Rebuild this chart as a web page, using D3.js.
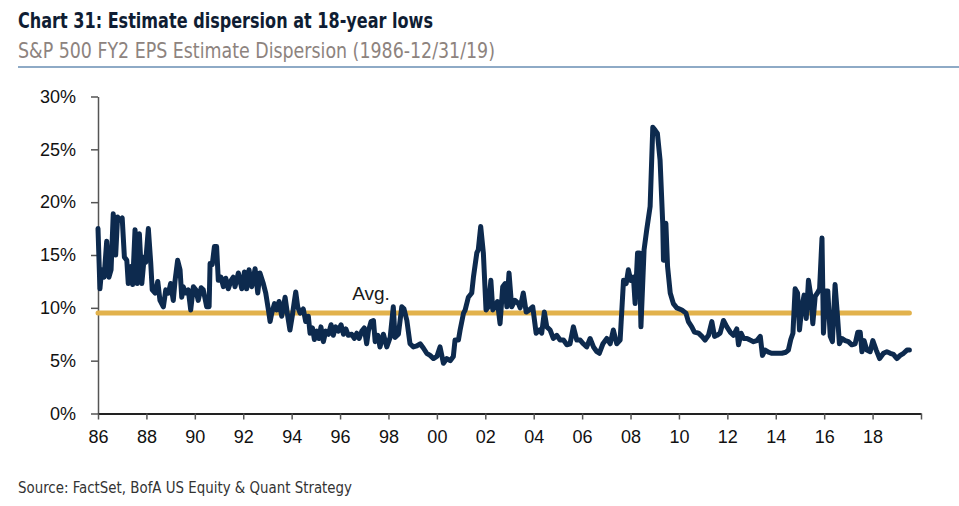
<!DOCTYPE html>
<html>
<head>
<meta charset="utf-8">
<script src="https://cdn.jsdelivr.net/npm/d3@7"></script>
<style>
  html, body { margin: 0; padding: 0; background: #fff; }
  svg { display: block; }
</style>
</head>
<body>
<svg id="chart" width="959" height="506"></svg>
<script>
const titleText = "Chart 31: Estimate dispersion at 18-year lows";
const subtitleText = "S&P 500 FY2 EPS Estimate Dispersion (1986-12/31/19)";
const sourceText = "Source: FactSet, BofA US Equity & Quant Strategy";
const avgLabel = "Avg.";
const avgValue = 9.5;

const yTicks = [0, 5, 10, 15, 20, 25, 30];
const xTicks = [1986,1988,1990,1992,1994,1996,1998,2000,2002,2004,2006,2008,2010,2012,2014,2016,2018,2020];
const xTickLabels = ["86","88","90","92","94","96","98","00","02","04","06","08","10","12","14","16","18",""];

const dates = [
  1986.00,1986.08,1986.15,1986.25,1986.36,1986.45,1986.54,1986.63,1986.73,1986.81,1986.91,
  1987.00,1987.09,1987.19,1987.25,1987.36,1987.43,1987.53,1987.62,1987.71,1987.81,1987.91,1987.97,
  1988.08,1988.18,1988.24,1988.36,1988.47,1988.56,1988.70,1988.80,1988.91,
  1989.00,1989.11,1989.18,1989.29,1989.39,1989.46,1989.52,1989.62,1989.73,1989.83,1989.94,
  1990.04,1990.14,1990.26,1990.35,1990.49,1990.59,1990.63,1990.72,1990.81,1990.90,1990.97,
  1991.08,1991.18,1991.28,1991.38,1991.50,1991.59,1991.66,1991.80,1991.94,
  1992.05,1992.14,1992.24,1992.35,1992.49,1992.60,1992.69,1992.83,1992.93,
  1993.04,1993.11,1993.18,1993.29,1993.38,1993.48,1993.59,1993.73,1993.84,1993.93,
  1994.03,1994.11,1994.17,1994.25,1994.35,1994.48,1994.58,1994.69,1994.76,1994.86,1994.94,
  1995.04,1995.13,1995.21,1995.31,1995.41,1995.52,1995.63,1995.72,1995.82,1995.93,
  1996.04,1996.14,1996.24,1996.34,1996.48,1996.59,1996.69,1996.79,1996.90,
  1997.00,1997.10,1997.17,1997.28,1997.38,1997.45,1997.56,1997.65,1997.79,1997.93,
  1998.07,1998.20,1998.27,1998.41,1998.55,1998.64,1998.76,1998.89,
  1999.03,1999.17,1999.31,1999.44,1999.58,1999.72,1999.86,
  2000.00,2000.13,2000.27,2000.41,2000.55,2000.68,2000.75,2000.89,2000.96,
  2001.10,2001.17,2001.30,2001.44,2001.51,2001.65,2001.71,2001.81,2001.92,
  2002.03,2002.13,2002.23,2002.31,2002.40,2002.50,2002.61,2002.72,2002.82,2002.89,2002.98,
  2003.09,2003.23,2003.37,2003.44,2003.57,2003.69,2003.82,2003.96,
  2004.10,2004.24,2004.33,2004.44,2004.54,2004.68,2004.81,2004.95,
  2005.09,2005.23,2005.37,2005.50,2005.64,2005.78,2005.92,
  2006.05,2006.19,2006.33,2006.47,2006.61,2006.71,2006.86,
  2007.02,2007.16,2007.29,2007.43,2007.57,2007.71,2007.82,2007.91,
  2008.01,2008.12,2008.19,2008.29,2008.37,2008.43,2008.56,2008.67,2008.81,2008.92,
  2009.02,2009.11,2009.22,2009.33,2009.36,2009.46,2009.53,2009.64,2009.77,2009.91,
  2010.12,2010.29,2010.39,2010.53,2010.64,2010.81,2010.95,
  2011.08,2011.22,2011.36,2011.47,2011.57,2011.70,2011.84,2011.98,
  2012.12,2012.25,2012.39,2012.46,2012.57,2012.67,2012.81,2012.94,
  2013.08,2013.22,2013.36,2013.45,2013.56,2013.70,2013.84,2013.98,
  2014.11,2014.25,2014.42,2014.52,2014.62,2014.71,2014.80,2014.90,2014.98,
  2015.08,2015.17,2015.26,2015.35,2015.45,2015.53,2015.63,2015.72,2015.81,2015.91,2015.97,
  2016.07,2016.15,2016.25,2016.34,2016.45,2016.55,2016.63,2016.73,2016.87,
  2017.00,2017.14,2017.28,2017.39,2017.49,2017.56,2017.65,2017.76,2017.90,
  2018.01,2018.15,2018.29,2018.45,2018.59,2018.73,2018.86,
  2019.00,2019.14,2019.28,2019.42,2019.52
];

const values = [
  17.5,11.8,13.6,12.9,16.3,12.9,13.6,18.9,15.0,18.6,18.3,
  18.5,14.8,14.5,12.3,13.9,12.2,17.4,12.3,17.0,12.3,14.8,14.3,
  17.5,14.2,11.7,11.4,12.5,10.7,10.1,11.7,11.4,
  12.3,10.7,12.5,14.5,13.6,11.0,12.0,11.4,11.7,9.8,12.0,
  11.7,10.7,11.9,11.7,10.1,10.1,14.2,14.1,15.8,15.8,12.6,
  12.9,12.0,12.8,11.8,12.6,12.9,12.0,13.3,11.8,
  13.4,11.8,13.6,12.0,13.7,11.4,13.3,12.3,11.4,
  9.8,8.7,9.5,10.4,9.8,10.6,9.2,11.0,9.2,7.9,
  9.3,10.6,11.5,10.1,9.5,9.9,8.7,9.2,7.6,8.1,7.0,
  7.8,7.1,8.2,6.8,7.8,7.5,8.4,7.4,8.2,7.8,
  8.4,7.5,8.0,7.4,7.5,7.1,7.6,7.1,7.8,
  8.1,6.6,7.8,8.7,8.8,6.8,7.4,6.3,7.5,6.3,
  7.2,10.1,7.2,7.5,10.1,9.9,8.8,6.6,
  6.3,6.4,6.6,6.2,5.7,5.5,5.2,
  5.4,6.3,4.75,5.2,5.0,5.4,6.95,6.95,7.9,
  9.5,9.8,11.0,11.4,12.9,15.2,15.5,17.7,15.2,
  9.8,10.1,12.6,9.8,10.1,10.6,8.5,12.0,12.3,10.1,13.3,
  10.1,10.7,10.4,10.0,11.4,9.6,9.8,10.1,
  7.6,7.9,7.6,9.6,8.2,7.9,7.1,7.4,
  6.95,6.95,6.5,6.6,8.2,6.95,6.95,
  6.6,6.3,7.1,6.3,5.85,5.7,6.6,
  7.1,6.6,7.9,6.6,6.95,12.6,12.3,13.6,
  12.6,12.9,10.4,15.2,15.2,8.2,15.5,17.4,19.6,27.1,
  26.8,26.5,24.0,18.0,14.5,18.0,13.9,11.4,10.4,10.0,
  9.8,9.5,8.7,8.2,7.7,7.6,7.3,
  6.95,7.4,8.7,7.3,7.4,7.6,8.8,8.2,
  7.7,7.4,8.0,6.5,7.6,7.1,7.1,6.95,
  6.8,6.9,7.3,5.5,6.0,5.8,5.7,5.7,
  5.7,5.7,5.8,6.0,7.0,7.6,11.8,11.4,7.9,
  10.1,11.2,9.0,12.6,11.1,8.5,11.1,11.4,11.8,16.6,7.6,
  11.6,11.6,7.3,6.8,12.2,9.2,6.6,7.1,6.9,
  6.8,6.5,6.6,7.7,7.7,5.85,6.9,6.0,5.85,
  6.9,6.0,5.2,5.7,5.85,5.7,5.6,
  5.2,5.5,5.7,6.0,6.0
];

const series = dates.map((d, i) => ({ date: d, value: values[i] }));

const svg = d3.select("#chart");

const x = d3.scaleLinear().domain([1986, 2020]).range([98, 921]);
const y = d3.scaleLinear().domain([0, 30]).range([413.5, 96.5]);

// Title & subtitle
svg.append("text")
  .attr("x", 18).attr("y", 28)
  .attr("font-family", "'Liberation Sans Narrow','DejaVu Sans Condensed','Liberation Sans',sans-serif")
  .attr("font-weight", "bold")
  .attr("font-size", 21)
  .attr("fill", "#0f1d33")
  .attr("textLength", 415)
  .attr("lengthAdjust", "spacingAndGlyphs")
  .text(titleText);

svg.append("text")
  .attr("x", 18).attr("y", 58)
  .attr("font-family", "'Liberation Sans Narrow','DejaVu Sans Condensed','Liberation Sans',sans-serif")
  .attr("font-size", 21)
  .attr("fill", "#8d837e")
  .attr("textLength", 477)
  .attr("lengthAdjust", "spacingAndGlyphs")
  .text(subtitleText);

svg.append("line")
  .attr("x1", 18).attr("x2", 959)
  .attr("y1", 67).attr("y2", 67)
  .attr("stroke", "#8eaac6")
  .attr("stroke-width", 2);

// Y axis
const yAxis = svg.append("g")
  .attr("transform", `translate(${x(1986)},0)`)
  .call(d3.axisLeft(y).tickValues(yTicks).tickFormat(d => d + "%").tickSize(7).tickSizeOuter(0).tickPadding(15));
yAxis.select(".domain").attr("stroke", "#555").attr("stroke-width", 1.5);
yAxis.selectAll(".tick line").attr("stroke", "#555").attr("stroke-width", 1.5);
yAxis.selectAll(".tick text")
  .attr("font-family", "'Liberation Sans',Arial,sans-serif")
  .attr("font-size", 18)
  .attr("fill", "#111");

// X axis
const xAxis = svg.append("g")
  .attr("transform", `translate(0,${y(0)})`)
  .call(d3.axisBottom(x).tickValues(xTicks).tickFormat((d, i) => xTickLabels[i]).tickSize(6).tickSizeOuter(0).tickPadding(11));
xAxis.select(".domain").attr("stroke", "#222").attr("stroke-width", 2);
xAxis.selectAll(".tick line").attr("stroke", "#555").attr("stroke-width", 1.5);
xAxis.selectAll(".tick text")
  .attr("font-family", "'Liberation Sans',Arial,sans-serif")
  .attr("font-size", 18)
  .attr("fill", "#111");

// Average line
svg.append("line")
  .attr("x1", x(dates[0])).attr("x2", x(dates[dates.length - 1]))
  .attr("y1", y(avgValue)).attr("y2", y(avgValue))
  .attr("stroke", "#e2b24c")
  .attr("stroke-width", 5)
  .attr("stroke-linecap", "round");

// Series line
const line = d3.line().x(d => x(d.date)).y(d => y(d.value));
svg.append("path")
  .datum(series)
  .attr("d", line)
  .attr("fill", "none")
  .attr("stroke", "#0d2a4e")
  .attr("stroke-width", 5)
  .attr("stroke-linejoin", "round")
  .attr("stroke-linecap", "round");

// Avg. label
svg.append("text")
  .attr("x", x(1996.5)).attr("y", y(avgValue) - 13)
  .attr("font-family", "'Liberation Sans',Arial,sans-serif")
  .attr("font-size", 19)
  .attr("fill", "#1a1a1a")
  .text(avgLabel);

// Source
svg.append("text")
  .attr("x", 18).attr("y", 493)
  .attr("font-family", "'Liberation Sans Narrow','DejaVu Sans Condensed','Liberation Sans',sans-serif")
  .attr("font-size", 15)
  .attr("fill", "#333")
  .attr("textLength", 334)
  .attr("lengthAdjust", "spacingAndGlyphs")
  .text(sourceText);
</script>
</body>
</html>
